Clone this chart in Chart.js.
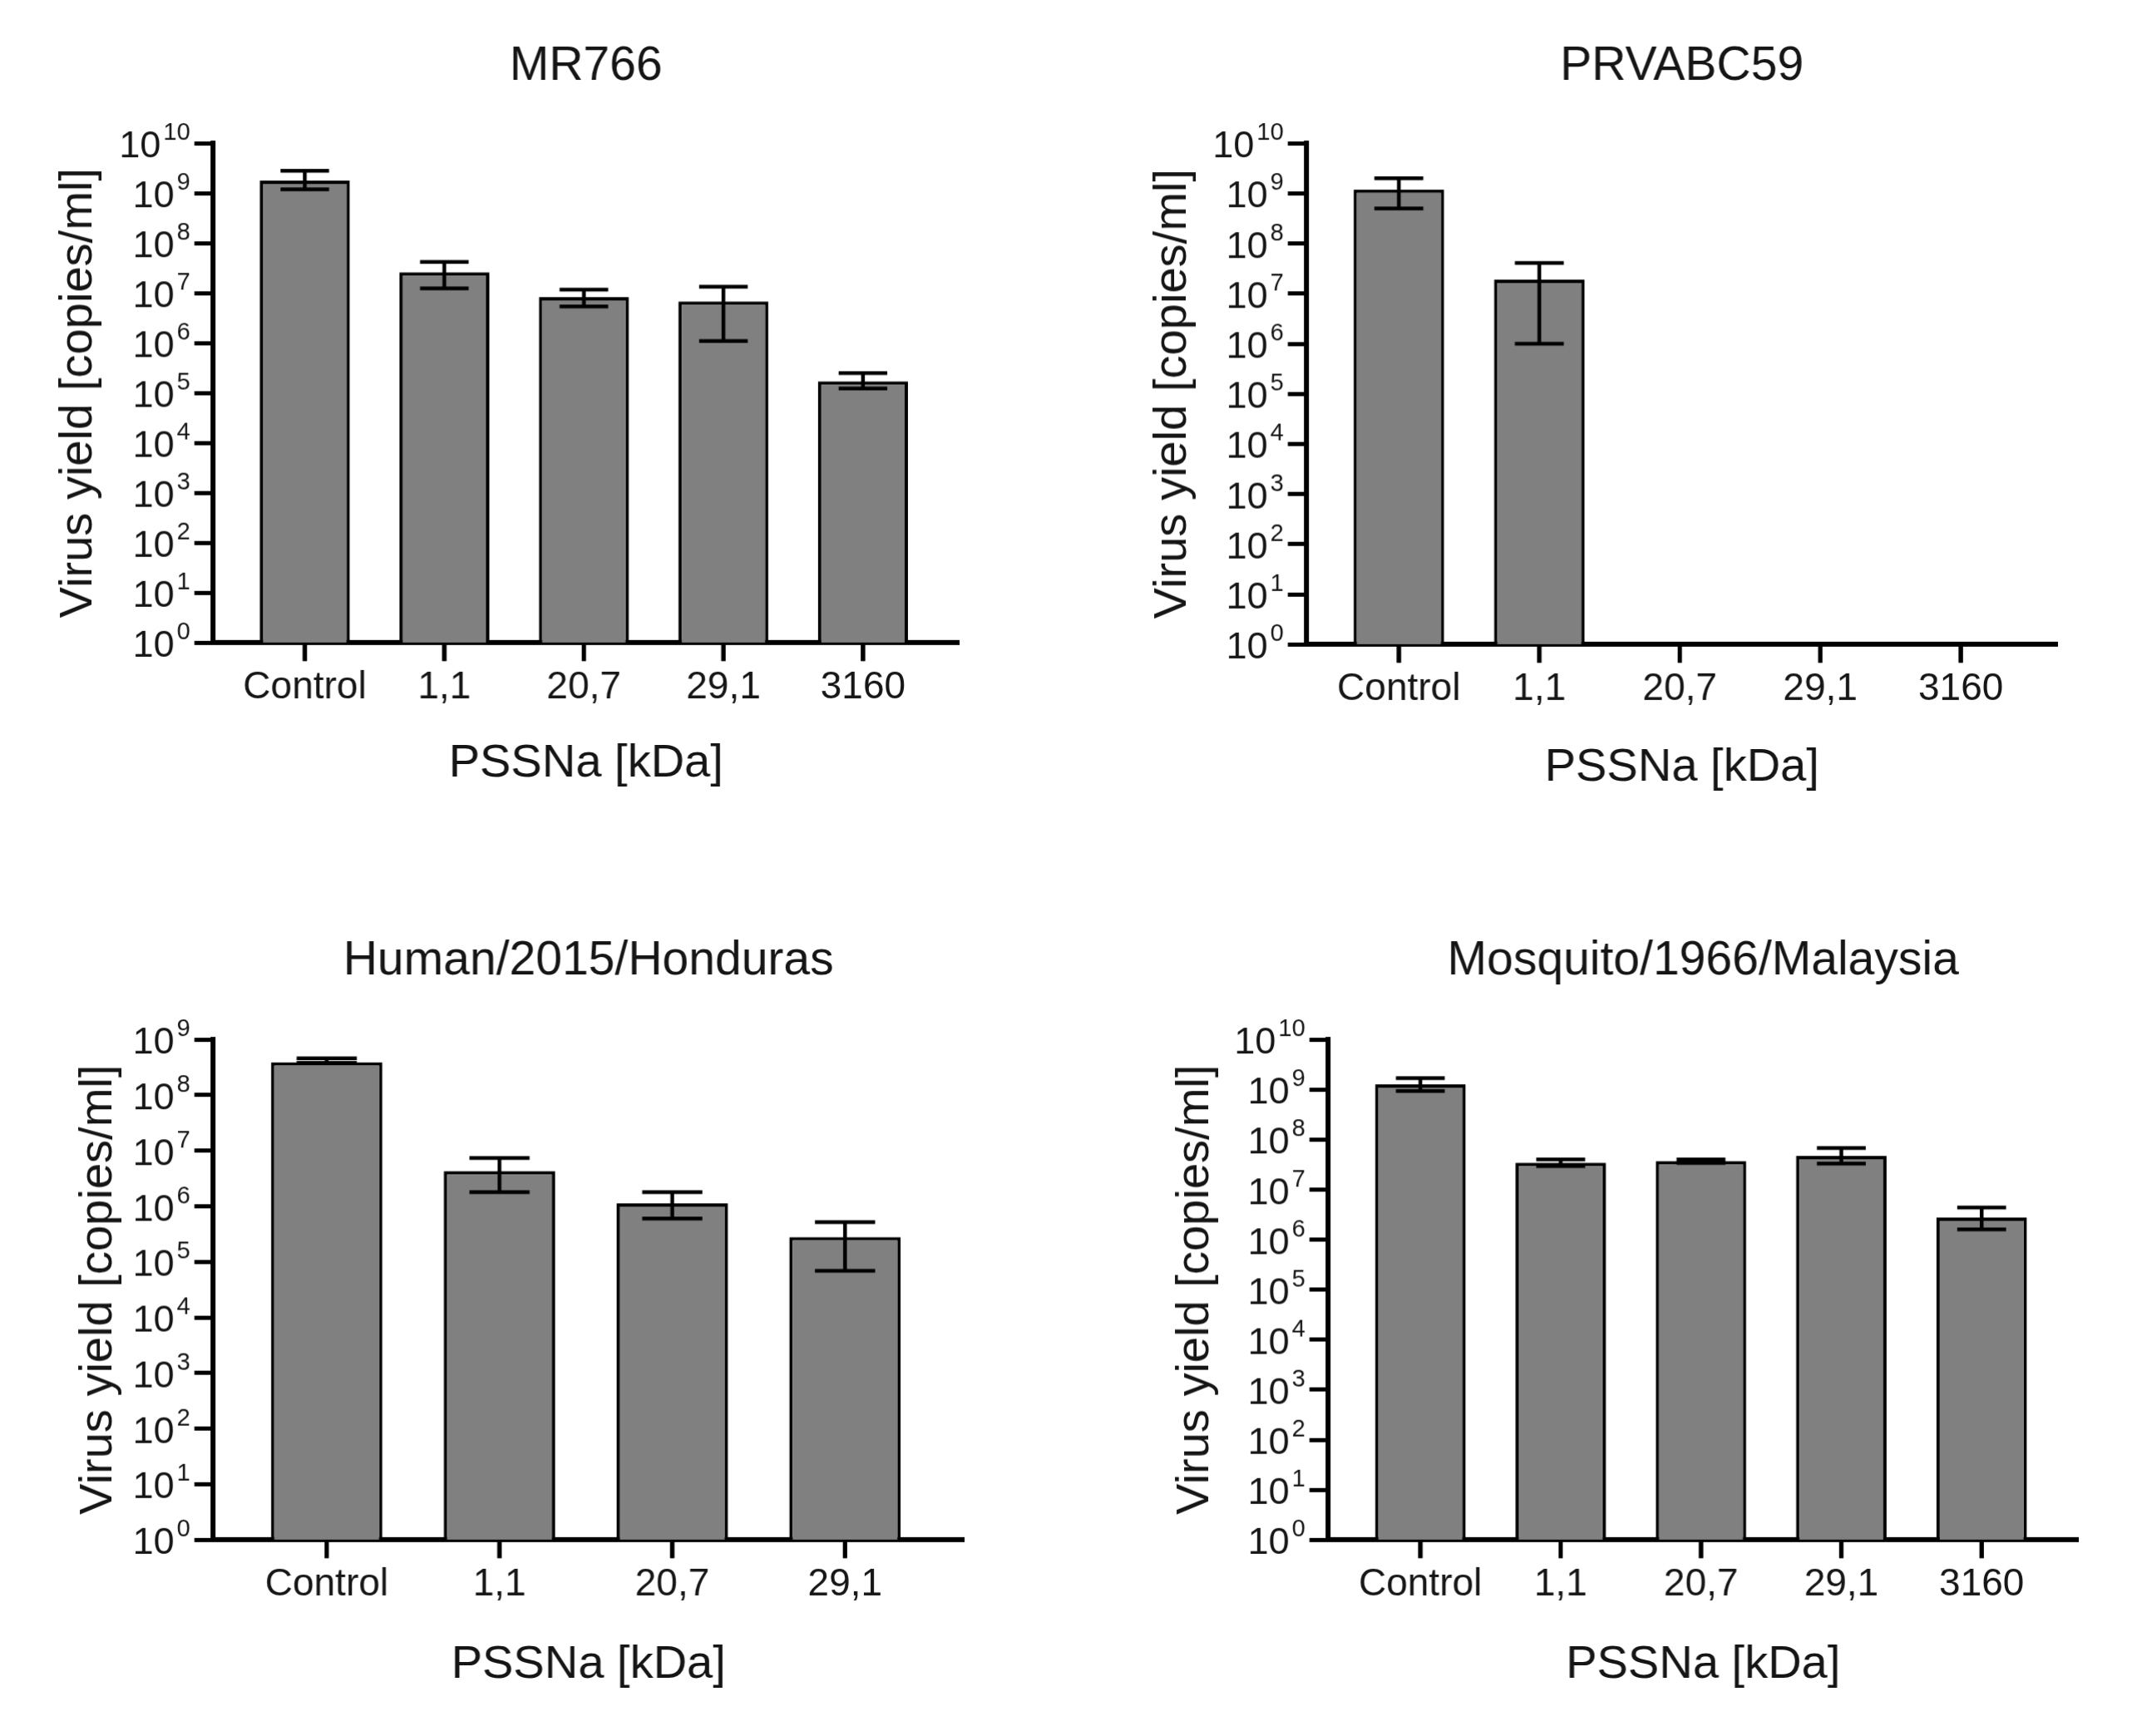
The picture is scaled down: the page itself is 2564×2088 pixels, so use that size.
<!DOCTYPE html>
<html>
<head>
<meta charset="utf-8">
<script src="https://cdn.jsdelivr.net/npm/chart.js@4.4.1/dist/chart.umd.min.js"></script>
<style>
  html, body { margin: 0; padding: 0; background: #ffffff; }
  body { width: 2564px; height: 2088px; position: relative; overflow: hidden; }
  .box { position: absolute; }
</style>
</head>
<body>
<div class="box" id="box1"><canvas id="c1"></canvas></div>
<div class="box" id="box2"><canvas id="c2"></canvas></div>
<div class="box" id="box3"><canvas id="c3"></canvas></div>
<div class="box" id="box4"><canvas id="c4"></canvas></div>
<script>
// ---------------- DATA ----------------
const categoriesFive = ['Control', '1,1', '20,7', '29,1', '3160'];
const categoriesFour = ['Control', '1,1', '20,7', '29,1'];

const xAxisTitle = 'PSSNa [kDa]';
const yAxisTitle = 'Virus yield [copies/ml]';
const tickBase = '10';
const yTickExponentsTen = [0, 1, 2, 3, 4, 5, 6, 7, 8, 9, 10];
const yTickExponentsNine = [0, 1, 2, 3, 4, 5, 6, 7, 8, 9];

// MR766
const mr766Values = [1.8e9, 2.6e7, 8.3e6, 6.8e6, 1.7e5];
const mr766Low    = [1.2e9, 1.25e7, 5.4e6, 1.1e6, 1.23e5];
const mr766High   = [2.8e9, 4.2e7, 1.17e7, 1.35e7, 2.5e5];

// PRVABC59
const prvValues = [1.2e9, 1.9e7, null, null, null];
const prvLow    = [5.0e8, 1.0e6, null, null, null];
const prvHigh   = [2.0e9, 4.1e7, null, null, null];

// Human/2015/Honduras
const hondValues = [3.9e8, 4.3e6, 1.13e6, 2.8e5];
const hondLow    = [3.8e8, 1.8e6, 6.0e5, 6.9e4];
const hondHigh   = [4.6e8, 7.4e6, 1.8e6, 5.2e5];

// Mosquito/1966/Malaysia
const mosqValues = [1.27e9, 3.45e7, 3.7e7, 4.7e7, 2.76e6];
const mosqLow    = [9.4e8, 2.95e7, 3.4e7, 3.3e7, 1.6e6];
const mosqHigh   = [1.7e9, 4.0e7, 4.0e7, 6.8e7, 4.4e6];

// ---------------- STYLE ----------------
const FONT = '"Liberation Sans", Arial, Helvetica, sans-serif';
const TEXT = '#151515';
const TITLE_SIZE = 57, AXT_SIZE = 56, XTICK_SIZE = 46, YBASE_SIZE = 45, YEXP_SIZE = 29;
const TITLE_LH = TITLE_SIZE * 1.2, AXT_LH = AXT_SIZE * 1.2;
const TICK_LEN = 22;

Chart.defaults.font.family = FONT;
Chart.defaults.color = TEXT;

function makeChart(canvasId, boxId, g, title, labels, values, low, high, exps) {
  const canvasLeft = g.yTitleX - AXT_LH / 2;
  const canvasTop = g.titleY - TITLE_LH / 2;
  const padRight = 14;
  const canvasRight = g.r + padRight;
  const canvasBottom = g.xTitleY + AXT_LH / 2;
  const box = document.getElementById(boxId);
  box.style.left = canvasLeft + 'px';
  box.style.top = canvasTop + 'px';
  box.style.width = (canvasRight - canvasLeft) + 'px';
  box.style.height = (canvasBottom - canvasTop) + 'px';
  const yWidth = g.l - canvasLeft;
  const xHeight = canvasBottom - g.b;
  const maxExp = exps[exps.length - 1];

  // x tick marks at each category position, placed through the scales
  function drawXTickMarks(chart) {
    const ctx = chart.ctx;
    const xs = chart.scales.x;
    const ys = chart.scales.y;
    const meta = chart.getDatasetMeta(0);
    const y0 = ys.getPixelForValue(ys.min);
    ctx.save();
    ctx.setLineDash([]);
    ctx.globalAlpha = 1;
    ctx.fillStyle = '#000000';
    labels.forEach((_, i) => {
      let x = meta.data[i] ? meta.data[i].x : NaN;
      if (!isFinite(x)) x = xs.getPixelForValue(i);
      if (!isFinite(x) || !isFinite(y0)) return;
      ctx.fillRect(x - 2.5, y0, 5, TICK_LEN);
    });
    ctx.restore();
  }

  const decorPlugin = {
    id: 'decor' + canvasId,
    afterDatasetsDraw(chart) {
      const ctx = chart.ctx;
      const ys = chart.scales.y;
      const meta = chart.getDatasetMeta(0);
      ctx.save();
      ctx.setLineDash([]);
      ctx.strokeStyle = '#000';
      ctx.lineWidth = 4.5;
      ctx.lineCap = 'butt';
      meta.data.forEach((bar, i) => {
        const lo = low[i], hi = high[i];
        if (lo == null || hi == null || values[i] == null) return;
        const x = bar.x;
        const half = bar.width * 0.27;
        const yLo = ys.getPixelForValue(lo), yHi = ys.getPixelForValue(hi);
        ctx.beginPath();
        ctx.moveTo(x, yLo); ctx.lineTo(x, yHi);
        ctx.moveTo(x - half, yHi); ctx.lineTo(x + half, yHi);
        ctx.moveTo(x - half, yLo); ctx.lineTo(x + half, yLo);
        ctx.stroke();
      });
      ctx.restore();
      drawXTickMarks(chart);
    },
    afterDraw(chart) {
      const ctx = chart.ctx;
      const ys = chart.scales.y;
      drawXTickMarks(chart);
      // y tick labels 10^n
      const right = chart.chartArea.left - 27;
      ctx.save();
      ctx.fillStyle = TEXT;
      ctx.textBaseline = 'alphabetic';
      exps.forEach(e => {
        const y = ys.getPixelForValue(Math.pow(10, e));
        const expStr = String(e);
        ctx.font = YEXP_SIZE + 'px ' + FONT;
        const we = ctx.measureText(expStr).width;
        ctx.textAlign = 'left';
        ctx.fillText(expStr, right - we, y - 4);
        ctx.font = YBASE_SIZE + 'px ' + FONT;
        ctx.textAlign = 'right';
        ctx.fillText(tickBase, right - we - 3, y + 17);
      });
      ctx.restore();
    }
  };

  return new Chart(document.getElementById(canvasId), {
    type: 'bar',
    data: {
      datasets: [{
        data: labels.map((_, i) => ({ x: i, y: values[i] })),
        backgroundColor: '#808080',
        borderColor: '#000000',
        borderWidth: 4,
        borderSkipped: 'bottom',
        categoryPercentage: 1,
        barPercentage: 0.645
      }]
    },
    options: {
      responsive: true,
      maintainAspectRatio: false,
      animation: false,
      layout: { padding: { left: 0, top: 0, right: padRight, bottom: 0 } },
      plugins: {
        legend: { display: false },
        tooltip: { enabled: false },
        title: {
          display: true,
          text: title,
          fullSize: false,
          color: TEXT,
          font: { size: TITLE_SIZE, weight: 'normal', lineHeight: 1.2 },
          padding: { top: 0, bottom: g.t - g.titleY - TITLE_LH / 2 }
        }
      },
      scales: {
        x: {
          type: 'linear',
          offset: false,
          min: -0.66,
          max: labels.length - 1 + 0.69,
          afterBuildTicks(scale) { scale.ticks = labels.map((_, i) => ({ value: i })); },
          afterFit(scale) { scale.height = xHeight; },
          ticks: {
            autoSkip: false,
            maxRotation: 0,
            padding: TICK_LEN + 5,
            color: TEXT,
            font: { size: XTICK_SIZE },
            callback: (v) => labels[v]
          },
          grid: { display: false, drawOnChartArea: false, drawTicks: false },
          border: { display: true, color: '#000', width: 6 },
          title: {
            display: true,
            text: xAxisTitle,
            color: TEXT,
            font: { size: AXT_SIZE, lineHeight: 1.2 },
            padding: { top: 0, bottom: 0 }
          }
        },
        y: {
          type: 'logarithmic',
          min: 1,
          max: Math.pow(10, maxExp),
          afterBuildTicks(scale) { scale.ticks = exps.map(e => ({ value: Math.pow(10, e), major: true })); },
          afterFit(scale) { scale.width = yWidth; },
          ticks: { display: false },
          grid: {
            drawOnChartArea: false,
            drawTicks: true,
            tickLength: TICK_LEN,
            tickWidth: 5,
            tickColor: '#000',
            color: '#000'
          },
          border: { display: true, color: '#000', width: 6 },
          title: {
            display: true,
            text: yAxisTitle,
            color: TEXT,
            font: { size: AXT_SIZE, lineHeight: 1.2 },
            padding: { top: 0, bottom: 0 }
          }
        }
      }
    },
    plugins: [decorPlugin]
  });
}

makeChart('c1', 'box1', { l: 256, r: 1153, t: 172, b: 772, titleY: 80, yTitleX: 95, xTitleY: 917 },
  'MR766', categoriesFive, mr766Values, mr766Low, mr766High, yTickExponentsTen);
makeChart('c2', 'box2', { l: 1571, r: 2474, t: 172, b: 774, titleY: 80, yTitleX: 1411, xTitleY: 922 },
  'PRVABC59', categoriesFive, prvValues, prvLow, prvHigh, yTickExponentsTen);
makeChart('c3', 'box3', { l: 256, r: 1159, t: 1250, b: 1851, titleY: 1156, yTitleX: 119, xTitleY: 2001 },
  'Human/2015/Honduras', categoriesFour, hondValues, hondLow, hondHigh, yTickExponentsNine);
makeChart('c4', 'box4', { l: 1597, r: 2499, t: 1250, b: 1851, titleY: 1156, yTitleX: 1438, xTitleY: 2001 },
  'Mosquito/1966/Malaysia', categoriesFive, mosqValues, mosqLow, mosqHigh, yTickExponentsTen);
</script>
</body>
</html>
